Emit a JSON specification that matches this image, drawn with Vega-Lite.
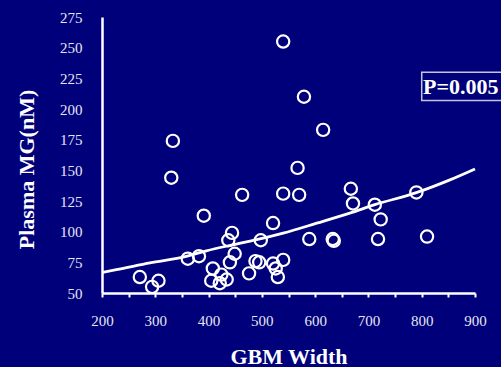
{
  "$schema": "https://vega.github.io/schema/vega-lite/v6.json",
  "autosize": "none",
  "width": 373,
  "height": 276,
  "padding": {"left": 102, "top": 17, "right": 26, "bottom": 74},
  "background": "#00007a",
  "config": {
    "view": {"stroke": null},
    "font": "Liberation Serif",
    "axis": {
      "grid": false,
      "domainColor": "white",
      "domainWidth": 2.5,
      "labelColor": "#e6e6f2",
      "labelFont": "Liberation Serif",
      "labelFontSize": 15,
      "labelFlush": false,
      "labelOverlap": false,
      "titleFont": "Liberation Serif",
      "titleFontSize": 22,
      "titleFontWeight": "bold",
      "titleColor": "white"
    },
    "axisX": {
      "tickColor": "white",
      "tickWidth": 2,
      "tickSize": 4,
      "labelPadding": 16,
      "titleY": 70,
      "titleBaseline": "alphabetic"
    },
    "axisY": {
      "ticks": false,
      "labelPadding": 20,
      "titleAngle": -90,
      "titleAlign": "center",
      "titleBaseline": "alphabetic",
      "titleX": -69,
      "titleY": 152
    }
  },
  "datasets": {
    "samples": [
      {"gbm_width": 540, "plasma_mg": 255},
      {"gbm_width": 579, "plasma_mg": 210},
      {"gbm_width": 615, "plasma_mg": 183},
      {"gbm_width": 567, "plasma_mg": 152},
      {"gbm_width": 333, "plasma_mg": 174},
      {"gbm_width": 330, "plasma_mg": 144},
      {"gbm_width": 463, "plasma_mg": 130},
      {"gbm_width": 391, "plasma_mg": 113},
      {"gbm_width": 444, "plasma_mg": 99},
      {"gbm_width": 437, "plasma_mg": 93},
      {"gbm_width": 449, "plasma_mg": 82},
      {"gbm_width": 440, "plasma_mg": 75},
      {"gbm_width": 382, "plasma_mg": 80},
      {"gbm_width": 361, "plasma_mg": 78},
      {"gbm_width": 271, "plasma_mg": 63},
      {"gbm_width": 306, "plasma_mg": 60},
      {"gbm_width": 294, "plasma_mg": 55},
      {"gbm_width": 408, "plasma_mg": 70},
      {"gbm_width": 405, "plasma_mg": 60},
      {"gbm_width": 424, "plasma_mg": 65},
      {"gbm_width": 421, "plasma_mg": 58},
      {"gbm_width": 434, "plasma_mg": 61},
      {"gbm_width": 476, "plasma_mg": 66},
      {"gbm_width": 488, "plasma_mg": 76},
      {"gbm_width": 495, "plasma_mg": 75},
      {"gbm_width": 521, "plasma_mg": 74},
      {"gbm_width": 540, "plasma_mg": 77},
      {"gbm_width": 526, "plasma_mg": 70},
      {"gbm_width": 530, "plasma_mg": 63},
      {"gbm_width": 540, "plasma_mg": 131},
      {"gbm_width": 570, "plasma_mg": 130},
      {"gbm_width": 667, "plasma_mg": 135},
      {"gbm_width": 671, "plasma_mg": 123},
      {"gbm_width": 712, "plasma_mg": 122},
      {"gbm_width": 790, "plasma_mg": 132},
      {"gbm_width": 723, "plasma_mg": 110},
      {"gbm_width": 521, "plasma_mg": 107},
      {"gbm_width": 498, "plasma_mg": 93},
      {"gbm_width": 589, "plasma_mg": 94},
      {"gbm_width": 633, "plasma_mg": 94},
      {"gbm_width": 635, "plasma_mg": 92.5},
      {"gbm_width": 718, "plasma_mg": 94},
      {"gbm_width": 810, "plasma_mg": 96}
    ],
    "fit": [
      {"gbm_width": 200, "plasma_mg": 66.8},
      {"gbm_width": 227, "plasma_mg": 69},
      {"gbm_width": 290, "plasma_mg": 74.5},
      {"gbm_width": 358, "plasma_mg": 79.8},
      {"gbm_width": 396, "plasma_mg": 84.4},
      {"gbm_width": 446, "plasma_mg": 89.3},
      {"gbm_width": 478, "plasma_mg": 92.3},
      {"gbm_width": 540, "plasma_mg": 98.8},
      {"gbm_width": 603, "plasma_mg": 106.9},
      {"gbm_width": 665, "plasma_mg": 115.1},
      {"gbm_width": 712, "plasma_mg": 122},
      {"gbm_width": 790, "plasma_mg": 131.8},
      {"gbm_width": 853, "plasma_mg": 142.2},
      {"gbm_width": 900, "plasma_mg": 151.1}
    ],
    "stats": [
      {"label": "P=0.005"}
    ]
  },
  "layer": [
    {
      "data": {"name": "fit"},
      "mark": {"type": "line", "color": "white", "strokeWidth": 2.8, "interpolate": "monotone"},
      "encoding": {
        "x": {
          "field": "gbm_width", "type": "quantitative", "title": "GBM Width",
          "scale": {"domain": [200, 900], "nice": false, "zero": false},
          "axis": {"values": [200, 250, 300, 350, 400, 450, 500, 550, 600, 650, 700, 750, 800, 850, 900], "labelExpr": "datum.value % 100 === 0 ? datum.label : ''", "format": "d"}
        },
        "y": {
          "field": "plasma_mg", "type": "quantitative", "title": "Plasma MG(nM)",
          "scale": {"domain": [50, 275], "nice": false, "zero": false},
          "axis": {"values": [50, 75, 100, 125, 150, 175, 200, 225, 250, 275], "format": "d"}
        }
      }
    },
    {
      "data": {"name": "samples"},
      "mark": {"type": "point", "shape": "circle", "filled": false, "stroke": "white", "strokeWidth": 2.2, "size": 150, "opacity": 1},
      "encoding": {
        "x": {
          "field": "gbm_width", "type": "quantitative", "title": "GBM Width",
          "axis": {"values": [200, 250, 300, 350, 400, 450, 500, 550, 600, 650, 700, 750, 800, 850, 900], "labelExpr": "datum.value % 100 === 0 ? datum.label : ''", "format": "d"}
        },
        "y": {
          "field": "plasma_mg", "type": "quantitative", "title": "Plasma MG(nM)",
          "axis": {"values": [50, 75, 100, 125, 150, 175, 200, 225, 250, 275], "format": "d"}
        }
      }
    },
    {
      "data": {"name": "stats"},
      "mark": {"type": "rect", "fill": "#00007a", "fillOpacity": 0, "stroke": "#c4c4e0", "strokeWidth": 1.5},
      "encoding": {
        "x": {
          "datum": 800, "type": "quantitative", "title": "GBM Width",
          "axis": {"values": [200, 250, 300, 350, 400, 450, 500, 550, 600, 650, 700, 750, 800, 850, 900], "labelExpr": "datum.value % 100 === 0 ? datum.label : ''", "format": "d"}
        },
        "x2": {"datum": 960},
        "y": {
          "datum": 230, "type": "quantitative", "title": "Plasma MG(nM)",
          "axis": {"values": [50, 75, 100, 125, 150, 175, 200, 225, 250, 275], "format": "d"}
        },
        "y2": {"datum": 207}
      }
    },
    {
      "data": {"name": "stats"},
      "mark": {"type": "text", "align": "left", "baseline": "alphabetic", "font": "Liberation Serif", "fontSize": 22, "fontWeight": "bold", "color": "white"},
      "encoding": {
        "x": {
          "datum": 802.5, "type": "quantitative", "title": "GBM Width",
          "axis": {"values": [200, 250, 300, 350, 400, 450, 500, 550, 600, 650, 700, 750, 800, 850, 900], "labelExpr": "datum.value % 100 === 0 ? datum.label : ''", "format": "d"}
        },
        "y": {
          "datum": 212, "type": "quantitative", "title": "Plasma MG(nM)",
          "axis": {"values": [50, 75, 100, 125, 150, 175, 200, 225, 250, 275], "format": "d"}
        },
        "text": {"field": "label"}
      }
    }
  ]
}
